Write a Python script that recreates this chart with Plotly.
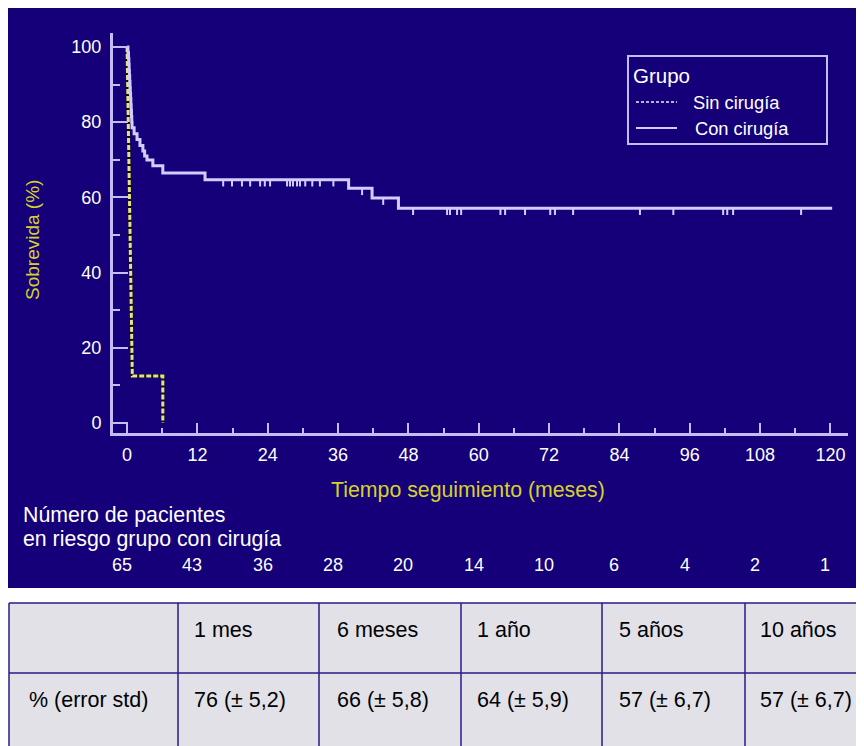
import plotly.graph_objects as go

# The page body has an 8px margin: the figure starts at page (8, 8)
OFF = 8
W, H = 856, 738

# ---------------- data ----------------
# Con cirugía (Kaplan-Meier step curve), months / survival %
con_t = [0, 0.15, 0.25, 0.3, 0.35, 0.4, 0.45, 0.5, 0.55, 0.6, 0.65, 0.7, 0.75, 0.8, 0.85,
         1.2, 1.7, 2.2, 2.7, 3.0, 3.4, 4.4, 6.1, 13.3, 37.8, 41.8, 46.3, 120.3]
con_s = [100, 98.5, 96.9, 95.4, 93.8, 92.3, 90.8, 89.2, 87.7, 86.2, 84.6, 83.1, 81.5, 80.0, 78.5,
         76.9, 75.4, 73.8, 72.3, 71.0, 69.9, 68.4, 66.5, 64.7, 62.4, 59.8, 57.1, 57.1]
# censored observations (months)
cens_t = [16.4, 17.9, 19.6, 21.0, 22.7, 23.5, 24.4, 27.3, 27.8, 28.3, 29.0, 29.5, 30.4, 31.6,
          32.9, 35.2, 40.1, 43.7, 48.8, 54.6, 55.1, 56.3, 57.0, 63.7, 64.5, 67.9, 72.2, 73.0,
          76.1, 87.5, 93.2, 101.7, 102.4, 103.4, 115.0]
# Sin cirugía
sin_t = [0, 0.9, 6.1, 6.1]
sin_s = [100, 12.5, 12.5, 0]

# number at risk
risk_t = [0, 12, 24, 36, 48, 60, 72, 84, 96, 108, 120]
risk_n = [65, 43, 36, 28, 20, 14, 10, 6, 4, 2, 1]

# table
tbl_header = ["", "1 mes", "6 meses", "1 año", "5 años", "10 años"]
tbl_row = ["% (error std)", "76 (± 5,2)", "66 (± 5,8)", "64 (± 5,9)", "57 (± 6,7)", "57 (± 6,7)"]

# ---------------- style ----------------
NAVY = "#150079"
LAV = "#d4ccff"
AXC = "#c4bcf4"
YEL = "#d4d22a"
TBL_BG = "#e2e1e8"
TBL_LINE = "#2a1a8a"
FONT = "Liberation Sans, Arial, sans-serif"


def px(x):
    return (x - OFF) / W


def py(y):
    return 1 - (y - OFF) / H


def step_value(t):
    v = con_s[0]
    for tt, ss in zip(con_t, con_s):
        if tt <= t:
            v = ss
    return v


cens_s = [step_value(t) for t in cens_t]

fig = go.Figure()

# Sin cirugía: dark underlay + pale yellow dashes
fig.add_trace(go.Scatter(x=sin_t, y=sin_s, mode="lines",
                         line=dict(color="#101010", width=3.5), hoverinfo="skip", showlegend=False))
fig.add_trace(go.Scatter(x=sin_t, y=sin_s, mode="lines", name="Sin cirugía",
                         line=dict(color="#e4e286", width=3, dash="5px,2px"), showlegend=False))

# Con cirugía
fig.add_trace(go.Scatter(x=con_t, y=con_s, mode="lines", name="Con cirugía",
                         line=dict(color=LAV, width=3, shape="hv"), showlegend=False))

# censor marks as downward ticks
fig.add_trace(go.Scatter(x=cens_t, y=cens_s, mode="markers",
                         marker=dict(size=1, color=LAV, opacity=0),
                         error_y=dict(type="data", symmetric=False,
                                      array=[0] * len(cens_t), arrayminus=[1.8] * len(cens_t),
                                      width=0, thickness=2, color=LAV),
                         hoverinfo="skip", showlegend=False))

shapes = [
    # navy panel
    dict(type="rect", xref="paper", yref="paper", x0=px(8), x1=px(866), y0=py(588), y1=py(8),
         fillcolor=NAVY, line=dict(width=0), layer="below"),
    # legend box
    dict(type="rect", xref="paper", yref="paper", x0=px(628), x1=px(827), y0=py(144), y1=py(56),
         line=dict(color=AXC, width=2), fillcolor="rgba(0,0,0,0)"),
    dict(type="line", xref="paper", yref="paper", x0=px(636), x1=px(677), y0=py(102), y1=py(102),
         line=dict(color="#b8b4d0", width=2, dash="3px,2px")),
    dict(type="line", xref="paper", yref="paper", x0=px(636), x1=px(677), y0=py(128), y1=py(128),
         line=dict(color=LAV, width=2)),
]

annotations = [
    dict(text="Grupo", x=px(631), y=py(75), xanchor="left", yanchor="middle",
         font=dict(size=20.5, color="white", family=FONT)),
    dict(text="Sin cirugía", x=px(691), y=py(102), xanchor="left", yanchor="middle",
         font=dict(size=18.3, color="white", family=FONT)),
    dict(text="Con cirugía", x=px(693), y=py(129), xanchor="left", yanchor="middle",
         font=dict(size=18.3, color="white", family=FONT)),
    dict(text="Tiempo seguimiento (meses)", x=px(468), y=py(490), xanchor="center", yanchor="middle",
         font=dict(size=21.3, color=YEL, family=FONT)),
    dict(text="Sobrevida (%)", x=px(33), y=py(240), xanchor="center", yanchor="middle",
         textangle=-90, font=dict(size=19, color=YEL, family=FONT)),
    dict(text="Número de pacientes", x=px(21), y=py(515), xanchor="left", yanchor="middle",
         font=dict(size=21.3, color="white", family=FONT)),
    dict(text="en riesgo grupo con cirugía", x=px(21), y=py(539), xanchor="left", yanchor="middle",
         font=dict(size=21.3, color="white", family=FONT)),
]
for t, n in zip(risk_t, risk_n):
    annotations.append(dict(text=str(n), x=t, xref="x", y=py(565), yref="paper",
                            xanchor="center", yanchor="middle", xshift=-5,
                            font=dict(size=18, color="white", family=FONT)))

# ---------------- table (grid + text) ----------------
col_edges = [9, 178, 319, 461, 602, 745, 870]
row_edges = [603, 673, 750]
shapes.append(dict(type="rect", xref="paper", yref="paper",
                   x0=px(col_edges[0]), x1=px(col_edges[-1]), y0=py(row_edges[-1]), y1=py(row_edges[0]),
                   fillcolor=TBL_BG, line=dict(width=0), layer="below"))
for ye in row_edges[:-1]:
    shapes.append(dict(type="line", xref="paper", yref="paper",
                       x0=px(col_edges[0]), x1=px(col_edges[-1]), y0=py(ye), y1=py(ye),
                       line=dict(color=TBL_LINE, width=1.5)))
for xe in col_edges[:-1]:
    shapes.append(dict(type="line", xref="paper", yref="paper",
                       x0=px(xe), x1=px(xe), y0=py(row_edges[-1]), y1=py(row_edges[0]),
                       line=dict(color=TBL_LINE, width=1.5)))
hdr_y = [627, 630, 630, 630, 630, 630]
pads = [18, 14, 16, 14, 15, 13]
for i, (h, v) in enumerate(zip(tbl_header, tbl_row)):
    if h:
        annotations.append(dict(text=h, x=px(col_edges[i] + pads[i]), y=py(hdr_y[i]),
                                xanchor="left", yanchor="middle",
                                font=dict(size=21.5, color="black", family=FONT)))
    annotations.append(dict(text=v, x=px(col_edges[i] + pads[i]), y=py(700),
                            xanchor="left", yanchor="middle",
                            font=dict(size=21.5, color="black", family=FONT)))

for a in annotations:
    a.setdefault("xref", "paper")
    a.setdefault("yref", "paper")
    a["showarrow"] = False

fig.update_layout(
    width=W, height=H,
    margin=dict(l=0, r=0, t=0, b=0),
    paper_bgcolor="white",
    plot_bgcolor=NAVY,
    font=dict(family=FONT, color="white"),
    showlegend=False,
    shapes=shapes,
    annotations=annotations,
    xaxis=dict(domain=[px(113), px(848)], range=[-2.4, 123.0],
               tickvals=risk_t, ticks="inside", ticklen=10, tickwidth=2, tickcolor=AXC,
               minor=dict(dtick=6, tick0=0, ticks="inside", ticklen=5, tickwidth=2, tickcolor=AXC),
               showline=True, linecolor=AXC, linewidth=3, showgrid=False, zeroline=False,
               tickfont=dict(size=18, color="white"), ticklabelstandoff=3, fixedrange=True),
    yaxis=dict(domain=[py(433), py(33)], range=[-2.66, 103.7],
               tickvals=[0, 20, 40, 60, 80, 100], ticks="inside", ticklen=15, tickwidth=2, tickcolor=AXC,
               minor=dict(dtick=10, tick0=0, ticks="inside", ticklen=7, tickwidth=2, tickcolor=AXC),
               showline=True, linecolor=AXC, linewidth=3, showgrid=False, zeroline=False,
               tickfont=dict(size=18, color="white"), ticklabelstandoff=5, fixedrange=True),
)

fig.write_html("out.html")
